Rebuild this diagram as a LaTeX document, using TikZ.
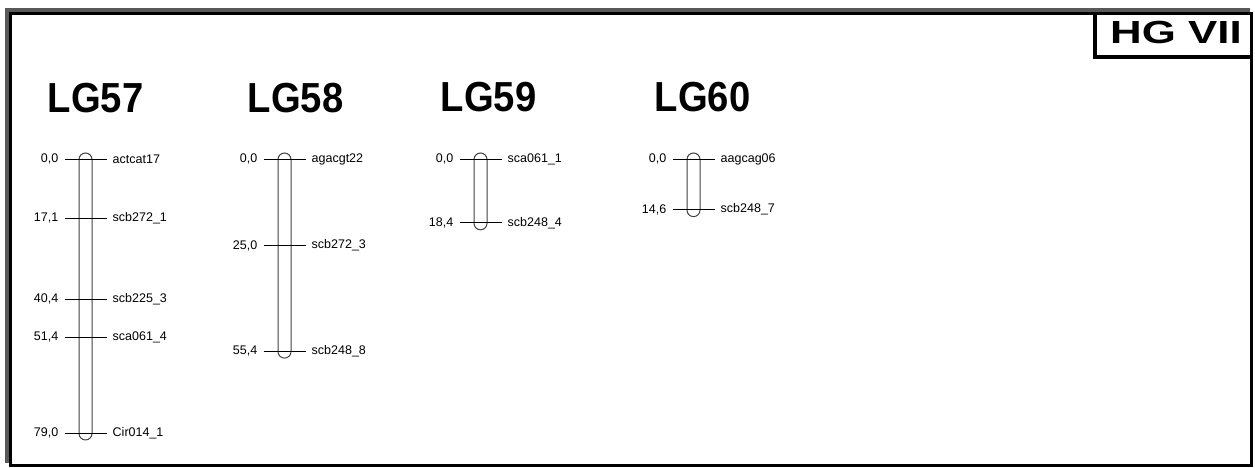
\documentclass[tikz,border=0pt]{standalone}
\usepackage{fontspec}
\setmainfont{Liberation Sans}
\newcommand{\cMscale}{3.468}
\tikzset{
  chromstyle/.style={draw=black!75, line width=1pt, rounded corners=6.5pt, minimum width=13pt, inner sep=0pt},
  tickline/.style={draw=black, line width=0.9pt},
  lab/.style={font=\fontsize{12.5}{13}\selectfont, inner sep=0pt},
  title/.style={font=\fontsize{42}{42}\selectfont\bfseries, inner sep=0pt, anchor=base},
}
\newcommand{\mychrom}[3]{%
  \node[chromstyle, minimum height={(#3*\cMscale+13)*1pt}, anchor=north] (#1) at (#2,152.5) {};}
\newcommand{\mymark}[5]{%
  \coordinate (#5l) at (#1-21,{159+#2*\cMscale});
  \coordinate (#5r) at (#1+21,{159+#2*\cMscale});
  \draw[tickline] (#5l) -- (#5r);
  \node[lab, anchor=east] (#5a) at ([xshift=-6pt]#5l) {#3};
  \node[lab, anchor=west] (#5b) at ([xshift=6pt]#5r) {#4};}
\begin{document}
\begin{tikzpicture}[x=1pt,y=-1pt]
\useasboundingbox (0,0) rectangle (1255,468);
% frame
\fill[black!65] (5,8) rectangle (1250,12);
\fill[black!65] (5,8) rectangle (9,463);
\draw[line width=3.5pt] (10.5,13.5) rectangle (1251.5,465.5);
\draw[line width=4pt] (1094.5,13.5) -- (1094.5,57) -- (1251.5,57);
\node[font=\fontsize{32}{32}\selectfont\bfseries, inner sep=0pt] (hg) at (1176,32) {\scalebox{1.37}[1]{HG VII}};
% titles
\node[title] (t57) at (95.5,113) {\scalebox{0.91}[1]{LG57}};
\node[title] (t58) at (295.5,113) {\scalebox{0.91}[1]{LG58}};
\node[title] (t59) at (488.5,112) {\scalebox{0.91}[1]{LG59}};
\node[title] (t60) at (702.5,112) {\scalebox{0.91}[1]{LG60}};
% chromosomes
\mychrom{c57}{85.5}{79.0}
\mychrom{c58}{284.5}{55.4}
\mychrom{c59}{480.5}{18.4}
\mychrom{c60}{693.5}{14.6}
% markers
\mymark{85.5}{0.0}{0,0}{actcat17}{m57a}
\mymark{85.5}{17.1}{17,1}{scb272\_1}{m57b}
\mymark{85.5}{40.4}{40,4}{scb225\_3}{m57c}
\mymark{85.5}{51.4}{51,4}{sca061\_4}{m57d}
\mymark{85.5}{79.0}{79,0}{Cir014\_1}{m57e}
\mymark{284.5}{0.0}{0,0}{agacgt22}{m58a}
\mymark{284.5}{25.0}{25,0}{scb272\_3}{m58b}
\mymark{284.5}{55.4}{55,4}{scb248\_8}{m58c}
\mymark{480.5}{0.0}{0,0}{sca061\_1}{m59a}
\mymark{480.5}{18.4}{18,4}{scb248\_4}{m59b}
\mymark{693.5}{0.0}{0,0}{aagcag06}{m60a}
\mymark{693.5}{14.6}{14,6}{scb248\_7}{m60b}
\end{tikzpicture}
\end{document}
